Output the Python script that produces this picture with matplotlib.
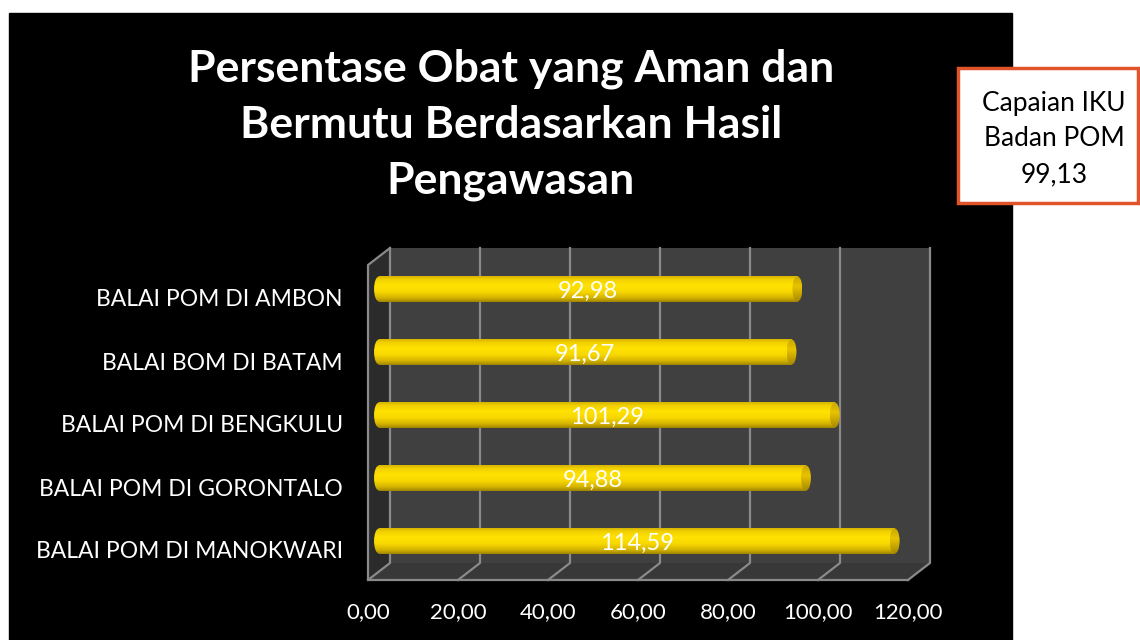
import numpy as np
import matplotlib
matplotlib.use("Agg")
import matplotlib.pyplot as plt
from matplotlib.patches import Rectangle, Polygon, Ellipse
from matplotlib.colors import LinearSegmentedColormap
from matplotlib import transforms

plt.rcParams['font.family'] = ['Lato', 'DejaVu Sans']

# data
categories = ["BALAI POM DI AMBON", "BALAI BOM DI BATAM", "BALAI POM DI BENGKULU",
              "BALAI POM DI GORONTALO", "BALAI POM DI MANOKWARI"]
values = [92.98, 91.67, 101.29, 94.88, 114.59]
value_labels = ["92,98", "91,67", "101,29", "94,88", "114,59"]
x_ticks = [0, 20, 40, 60, 80, 100, 120]
x_tick_labels = ["0,00", "20,00", "40,00", "60,00", "80,00", "100,00", "120,00"]
title = "Persentase Obat yang Aman dan\nBermutu Berdasarkan Hasil\nPengawasan"
note = "Capaian IKU\nBadan POM\n99,13"

W, H = 1140, 640
fig = plt.figure(figsize=(W / 100, H / 100), dpi=100)
fig.patch.set_facecolor("white")

# black chart area
fig.add_artist(Rectangle((9 / W, 0), (1012 - 9) / W, (H - 13) / H,
                         transform=fig.transFigure, color="black", zorder=-10))

# a little room left of zero so the rounded cylinder ends are not clipped
XMIN = -2
ax = fig.add_axes([(379 + XMIN * 4.5) / W, (H - 572.5) / H, (120 - XMIN) * 4.5 / W, 315 / H])
ax.set_xlim(XMIN, 120)
ax.set_ylim(4.5, -0.5)
ax.patch.set_alpha(0)
for s in ax.spines.values():
    s.set_visible(False)

# depth offsets in pixels (display coords, y up)
BACK = (11, 9.5)
FRONT = (-11, -7.5)


def pt(v, yf, depth):
    x = ax.transData.transform((v, 0))[0]
    y = ax.transAxes.transform((0, yf))[1]
    return (x + depth[0], y + depth[1])


ident = transforms.IdentityTransform()
xmax = x_ticks[-1]

# walls
ax.add_patch(Polygon([pt(0, 0, BACK), pt(xmax, 0, BACK), pt(xmax, 1, BACK), pt(0, 1, BACK)],
                     closed=True, fc="#404040", ec="none", transform=ident, clip_on=False, zorder=0))
ax.add_patch(Polygon([pt(0, 1, FRONT), pt(0, 1, BACK), pt(0, 0, BACK), pt(0, 0, FRONT)],
                     closed=True, fc="#2b2b2b", ec="none", transform=ident, clip_on=False, zorder=0))
ax.add_patch(Polygon([pt(0, 0, FRONT), pt(0, 0, BACK), pt(xmax, 0, BACK), pt(xmax, 0, FRONT)],
                     closed=True, fc="#383838", ec="none", transform=ident, clip_on=False, zorder=0))

grid_c = "#8a8a8a"
for t in x_ticks:
    pts = np.array([pt(t, 1, BACK), pt(t, 0, BACK), pt(t, 0, FRONT)])
    ax.plot(pts[:, 0], pts[:, 1], color=grid_c, lw=1.6, transform=ident, clip_on=False, zorder=1)
edge = np.array([pt(0, 1, BACK), pt(0, 1, FRONT), pt(0, 0, FRONT), pt(xmax, 0, FRONT)])
ax.plot(edge[:, 0], edge[:, 1], color=grid_c, lw=1.6, transform=ident, clip_on=False, zorder=1)

# cylinder bars
cyl = LinearSegmentedColormap.from_list(
    "cyl", [(0, "#d6b400"), (0.12, "#f2d000"), (0.35, "#ffe200"), (0.6, "#f8d800"),
            (0.85, "#d4b200"), (1, "#a08400")])
cap = LinearSegmentedColormap.from_list(
    "cap", [(0, "#c9a600"), (0.4, "#e8c300"), (1, "#a58700")])
grad = np.linspace(0, 1, 64).reshape(-1, 1)
hh = 0.2
ew = 2.2
for i, v in enumerate(values):
    ax.imshow(grad, cmap=cyl, aspect="auto", extent=(0, v, i + hh, i - hh),
              origin="upper", zorder=3, interpolation="bilinear")
    left = Ellipse((0, i), ew, 2 * hh, fc="none", ec="none")
    ax.add_patch(left)
    im = ax.imshow(grad, cmap=cyl, aspect="auto", extent=(-ew / 2, ew / 2, i + hh, i - hh),
                   origin="upper", zorder=3, interpolation="bilinear")
    im.set_clip_path(left)
    right = Ellipse((v, i), ew, 2 * hh, fc="none", ec="none")
    ax.add_patch(right)
    im2 = ax.imshow(grad, cmap=cap, aspect="auto", extent=(v - ew / 2, v + ew / 2, i + hh, i - hh),
                    origin="upper", zorder=4, interpolation="bilinear")
    im2.set_clip_path(right)
    ax.text(v / 2, i + 0.03, value_labels[i], ha="center", va="center",
            color="white", fontsize=17, zorder=5)

ax.set_xlim(XMIN, 120)
ax.set_ylim(4.5, -0.5)

ax.set_xticks(x_ticks, x_tick_labels)
ax.set_yticks(range(len(categories)), categories)
ax.tick_params(axis="x", length=0, pad=21, labelsize=16, labelcolor="white")
ax.tick_params(axis="y", length=0, pad=19.5, labelsize=16.5, labelcolor="white")
shift_x = transforms.ScaledTranslation(FRONT[0] / 100, 0, fig.dpi_scale_trans)
for lab in ax.get_xticklabels():
    lab.set_transform(lab.get_transform() + shift_x)
shift_y = transforms.ScaledTranslation(0, -9 / 100, fig.dpi_scale_trans)
for lab in ax.get_yticklabels():
    lab.set_transform(lab.get_transform() + shift_y)

# title
fig.text(511 / W, 1 - 125 / H, title, ha="center", va="center", color="white",
         fontsize=32, fontweight="bold", linespacing=1.48)

# note box
fig.add_artist(Rectangle((958 / W, 1 - 203 / H), 180 / W, 135 / H, transform=fig.transFigure,
                         fc="white", ec="#e0532b", lw=2.5, zorder=5))
fig.text(1054 / W, 1 - 139 / H, note, ha="center", va="center", color="black",
         fontsize=19, linespacing=1.55, zorder=6)

fig.savefig("out.png", dpi=100)
